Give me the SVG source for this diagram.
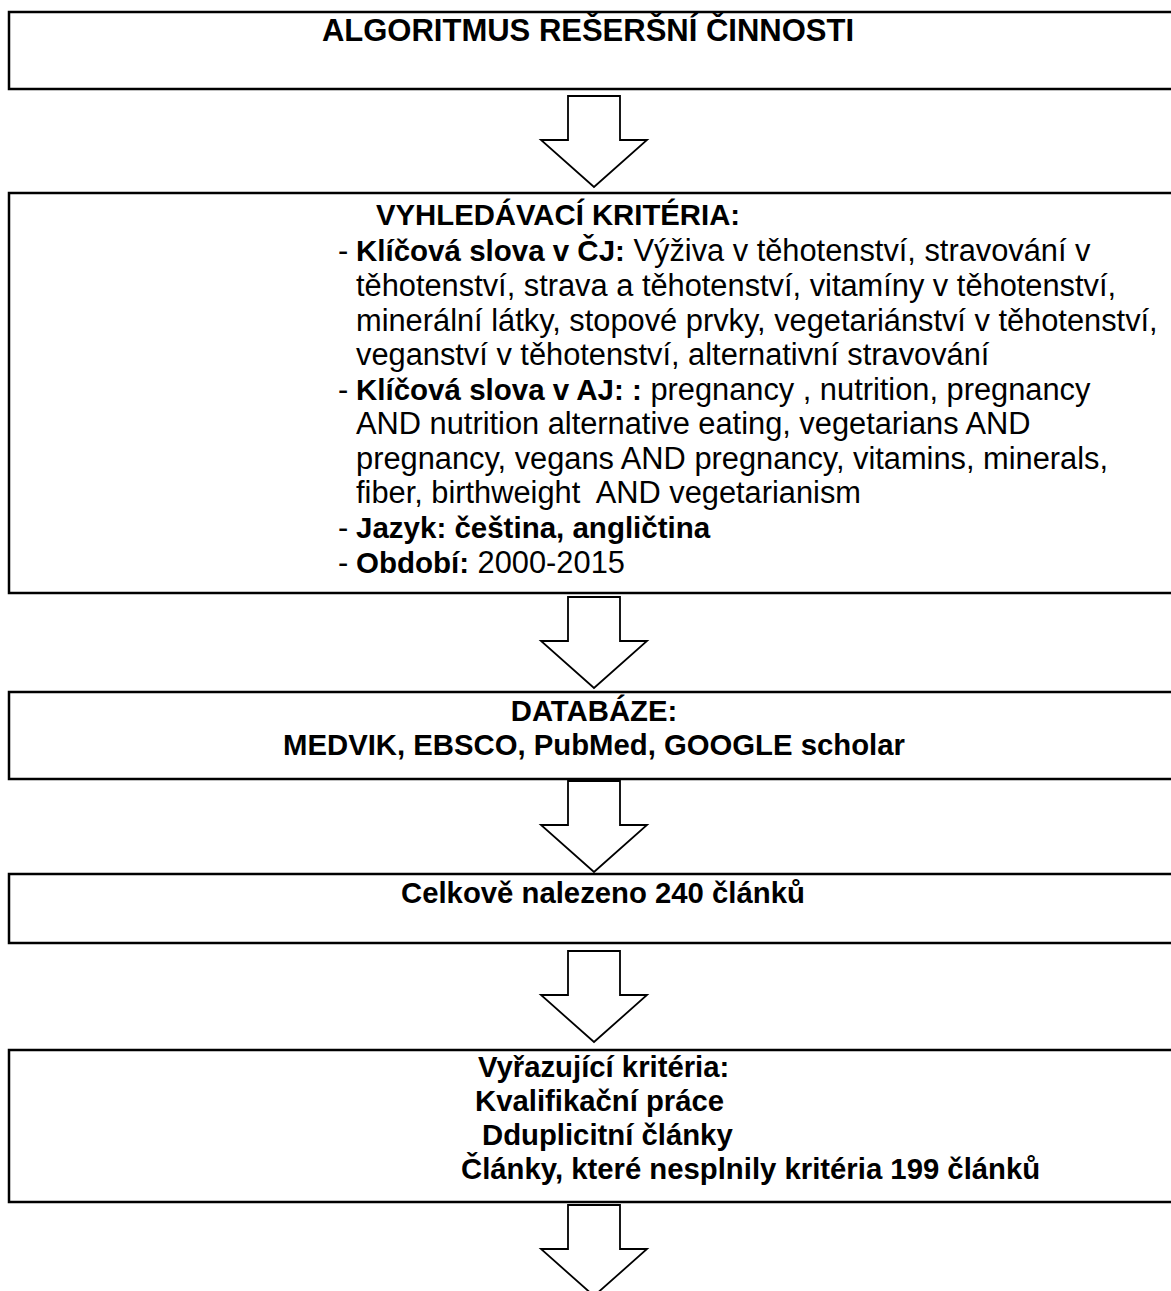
<svg xmlns="http://www.w3.org/2000/svg" width="1171" height="1291" viewBox="0 0 1171 1291">
<style>
.box{fill:#fff;stroke:#000;stroke-width:2.5}
.arr{fill:#fff;stroke:#000;stroke-width:1.8;stroke-linejoin:miter}
text{font-family:"Liberation Sans",Arial,sans-serif;font-size:30.8px;fill:#000}
.b{font-weight:bold;font-size:29.5px}
.h{font-weight:bold;font-size:29.3px}
.t{font-size:31px;font-weight:bold}
</style>
<defs>
<path id="arrow" class="arr" d="M568,0 H620 V44 H647 L594,91 L541,44 H568 Z"/>
</defs>
<rect width="1171" height="1291" fill="#fff"/>
<g id="connectors">
<use href="#arrow" y="96"/>
<use href="#arrow" y="597"/>
<use href="#arrow" y="781"/>
<use href="#arrow" y="951"/>
<use href="#arrow" y="1205"/>
</g>
<g id="n1">
<rect class="box" x="9" y="12" width="1180" height="77"/>
<text class="t" x="588" y="41" text-anchor="middle">ALGORITMUS REŠERŠNÍ ČINNOSTI</text>
</g>
<g id="n2">
<rect class="box" x="9" y="193" width="1180" height="400"/>
<text class="h" x="376" y="225">VYHLEDÁVACÍ KRITÉRIA:</text>
<text x="338" y="261">-</text><text x="356" y="261"><tspan class="b">Klíčová slova v ČJ:</tspan> Výživa v těhotenství, stravování v</text>
<text x="356" y="296">těhotenství, strava a těhotenství, vitamíny v těhotenství,</text>
<text x="356" y="331">minerální látky, stopové prvky, vegetariánství v těhotenství,</text>
<text x="356" y="365">veganství v těhotenství, alternativní stravování</text>
<text x="338" y="400">-</text><text x="356" y="400"><tspan class="b">Klíčová slova v AJ: :</tspan> pregnancy , nutrition, pregnancy</text>
<text x="356" y="434">AND nutrition alternative eating, vegetarians AND</text>
<text x="356" y="469">pregnancy, vegans AND pregnancy, vitamins, minerals,</text>
<text x="356" y="503" xml:space="preserve">fiber, birthweight  AND vegetarianism</text>
<text x="338" y="538">-</text><text class="b" x="356" y="538">Jazyk: čeština, angličtina</text>
<text x="338" y="573">-</text><text x="356" y="573"><tspan class="b">Období:</tspan> 2000-2015</text>
</g>
<g id="n3">
<rect class="box" x="9" y="692" width="1180" height="87"/>
<text class="h" x="594" y="721" text-anchor="middle">DATABÁZE:</text>
<text class="h" x="594" y="755" text-anchor="middle">MEDVIK, EBSCO, PubMed, GOOGLE scholar</text>
</g>
<g id="n4">
<rect class="box" x="9" y="874" width="1180" height="69"/>
<text class="h" x="401" y="903">Celkově nalezeno 240 článků</text>
</g>
<g id="n5">
<rect class="box" x="9" y="1050" width="1180" height="152"/>
<text class="h" x="478" y="1077">Vyřazující kritéria:</text>
<text class="h" x="475" y="1111">Kvalifikační práce</text>
<text class="h" x="482" y="1145">Dduplicitní články</text>
<text class="h" x="461" y="1179">Články, které nesplnily kritéria 199 článků</text>
</g>
</svg>
